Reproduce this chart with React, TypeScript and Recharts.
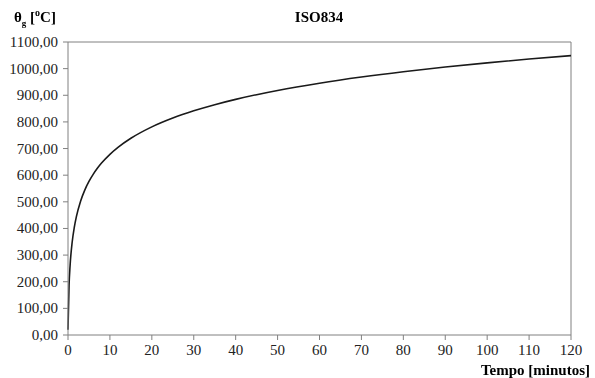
import React from "react";
import { LineChart, Line, XAxis, YAxis, ReferenceLine } from "recharts";

// ISO 834 standard fire curve, gas temperature vs. time
const minutes = [0, 0.25, 0.5, 1, 1.5, 2, 3, 4, 5, 6, 7, 8, 10, 12, 15, 20, 25, 30, 35, 40, 45, 50, 60, 70, 80, 90, 100, 110, 120];
const tempC = [20, 184.6, 261.1, 349.2, 404.3, 444.5, 502.3, 543.9, 576.4, 603.1, 625.8, 645.5, 678.4, 705.4, 738.6, 781.4, 814.6, 841.8, 864.8, 884.7, 902.3, 918.1, 945.3, 968.4, 988.4, 1006.0, 1021.7, 1036.0, 1049.0];

const xTicks = [0, 10, 20, 30, 40, 50, 60, 70, 80, 90, 100, 110, 120];
const yTicks = [0, 100, 200, 300, 400, 500, 600, 700, 800, 900, 1000, 1100];

const data = minutes.map((t, i) => ({ t, temp: tempC[i] }));

const font = "Liberation Serif";
const axisGray = "#808080";

const fmt = (v: number) => v.toFixed(2).replace(".", ",");

const renderXTick = (props: any) => {
  const { x, y, payload } = props;
  return (
    <text x={x} y={y + 13} textAnchor="middle" fill="#222" fontFamily={font} fontSize={15}>
      {payload.value}
    </text>
  );
};

const renderYTick = (props: any) => {
  const { x, y, payload } = props;
  return (
    <text x={x - 3} y={y + 5} textAnchor="end" fill="#222" fontFamily={font} fontSize={15}>
      {fmt(payload.value)}
    </text>
  );
};

export default function App() {
  return (
    <div style={{ position: "fixed", left: 0, top: 0, width: 595, height: 378, background: "#fff", fontFamily: font }}>
      <LineChart width={595} height={378} data={data} margin={{ top: 42, right: 24, bottom: 0, left: 0 }}>
        <XAxis
          dataKey="t"
          type="number"
          domain={[0, 120]}
          ticks={xTicks}
          height={43}
          stroke={axisGray}
          tickSize={5}
          tick={renderXTick}
        />
        <YAxis
          type="number"
          domain={[0, 1100]}
          ticks={yTicks}
          width={68}
          stroke={axisGray}
          tickSize={5}
          tick={renderYTick}
        />
        <ReferenceLine y={1100} stroke={axisGray} />
        <ReferenceLine x={120} stroke={axisGray} />
        <Line
          type="monotone"
          dataKey="temp"
          stroke="#1a1a1a"
          strokeWidth={1.6}
          dot={false}
          isAnimationActive={false}
        />
      </LineChart>
      <div style={{ position: "absolute", left: 0, width: 638, top: 9, textAlign: "center", fontWeight: "bold", fontSize: 15 }}>
        ISO834
      </div>
      <div style={{ position: "absolute", left: 14, top: 7, fontWeight: "bold", fontSize: 15 }}>
        θ<sub style={{ fontSize: 9 }}>g</sub> [<sup style={{ fontSize: 10 }}>o</sup>C]
      </div>
      <div style={{ position: "absolute", right: 5, top: 362, fontWeight: "bold", fontSize: 15 }}>
        Tempo [minutos]
      </div>
    </div>
  );
}
